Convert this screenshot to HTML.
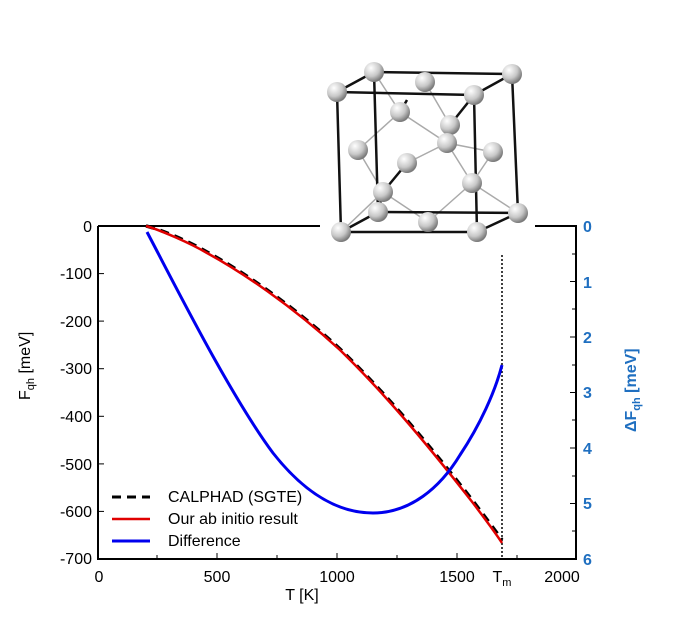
<!DOCTYPE html><html><head><style>body{margin:0;background:#fff}svg{display:block}</style></head><body>
<svg width="674" height="631" viewBox="0 0 674 631" font-family="Liberation Sans, sans-serif">
<defs><radialGradient id="g" cx="0.35" cy="0.3" r="0.7"><stop offset="0" stop-color="#fff"/><stop offset="0.6" stop-color="#c8c8c8"/><stop offset="1" stop-color="#7a7a7a"/></radialGradient></defs>
<g stroke="#000" stroke-width="2" fill="none">
<line x1="98" y1="559" x2="577" y2="559"/><line x1="98" y1="226" x2="98" y2="560"/><line x1="576" y1="226" x2="576" y2="560"/>
<line x1="98" y1="226" x2="320" y2="226"/><line x1="535" y1="226" x2="577" y2="226"/>
</g>
<g stroke="#000" stroke-width="1">
<line x1="217" y1="559" x2="217" y2="553"/><line x1="337" y1="559" x2="337" y2="553"/><line x1="457" y1="559" x2="457" y2="553"/>
<line x1="157" y1="559" x2="157" y2="555"/><line x1="277" y1="559" x2="277" y2="555"/><line x1="397" y1="559" x2="397" y2="555"/><line x1="517" y1="559" x2="517" y2="555"/>
<line x1="98" y1="273.6" x2="104" y2="273.6"/><line x1="98" y1="321.1" x2="104" y2="321.1"/><line x1="98" y1="368.7" x2="104" y2="368.7"/><line x1="98" y1="416.3" x2="104" y2="416.3"/><line x1="98" y1="463.9" x2="104" y2="463.9"/><line x1="98" y1="511.4" x2="104" y2="511.4"/>
<line x1="576" y1="281.5" x2="570" y2="281.5"/><line x1="576" y1="337" x2="570" y2="337"/><line x1="576" y1="392.5" x2="570" y2="392.5"/><line x1="576" y1="448" x2="570" y2="448"/><line x1="576" y1="503.5" x2="570" y2="503.5"/>
<line x1="576" y1="254" x2="572" y2="254"/><line x1="576" y1="309" x2="572" y2="309"/><line x1="576" y1="365" x2="572" y2="365"/><line x1="576" y1="420" x2="572" y2="420"/><line x1="576" y1="476" x2="572" y2="476"/><line x1="576" y1="531" x2="572" y2="531"/>
</g>
<line x1="502" y1="255" x2="502" y2="559" stroke="#000" stroke-width="1.5" stroke-dasharray="2,2"/>
<g font-size="16" fill="#000" text-anchor="end">
<text x="92" y="232">0</text><text x="92" y="279">-100</text><text x="92" y="327">-200</text><text x="92" y="374">-300</text><text x="92" y="422">-400</text><text x="92" y="470">-500</text><text x="92" y="517">-600</text><text x="92" y="564">-700</text>
</g>
<g font-size="16" fill="#000" text-anchor="middle">
<text x="99" y="582">0</text><text x="217" y="582">500</text><text x="337" y="582">1000</text><text x="457" y="582">1500</text><text x="562" y="582">2000</text>
<text x="502" y="582">T<tspan font-size="11" dy="4">m</tspan></text>
<text x="302" y="600">T [K]</text>
</g>
<g font-size="16" fill="#1f6fc0" font-weight="bold">
<text x="583" y="232">0</text><text x="583" y="288">1</text><text x="583" y="343">2</text><text x="583" y="398">3</text><text x="583" y="454">4</text><text x="583" y="509">5</text><text x="583" y="565">6</text>
<text transform="translate(636,432) rotate(-90)" font-weight="bold">ΔF<tspan font-size="11" dy="4">qh</tspan><tspan dy="-4"> [meV]</tspan></text>
</g>
<text transform="translate(30,400) rotate(-90)" font-size="16">F<tspan font-size="11" dy="4">qh</tspan><tspan dy="-4"> [meV]</tspan></text>
<path d="M146,226 C160,229 190,242 207,252 C240,270 290,303 340,349 C380,388 420,433 473,501 C485,517 495,530 502,540" fill="none" stroke="#000" stroke-width="3.5" stroke-dasharray="9,6"/>
<path d="M146,226 C160,230 190,243 207,253 C240,271 290,304 340,350 C380,389 420,435 473,503 C485,519 495,532 502,543" fill="none" stroke="#e00000" stroke-width="2.5"/>
<path d="M147,232 C175,285 230,395 273,453 C310,500 345,513 373,513 C410,513 440,488 460,455 C480,425 495,392 502,365" fill="none" stroke="#0000ee" stroke-width="3"/>
<line x1="112" y1="497" x2="150" y2="497" stroke="#000" stroke-width="3" stroke-dasharray="9,6"/>
<line x1="112" y1="519" x2="150" y2="519" stroke="#e00000" stroke-width="2.5"/>
<line x1="112" y1="541" x2="150" y2="541" stroke="#0000ee" stroke-width="3"/>
<g font-size="16"><text x="168" y="502">CALPHAD (SGTE)</text><text x="168" y="524">Our ab initio result</text><text x="168" y="546">Difference</text></g>
<rect x="322" y="60" width="210" height="185" fill="#fff"/>
<g stroke="#aaa" stroke-width="1.5">
<line x1="400" y1="112" x2="374" y2="72"/><line x1="400" y1="112" x2="358" y2="150"/><line x1="400" y1="112" x2="447" y2="143"/><line x1="450" y1="125" x2="425" y2="82"/><line x1="447" y1="143" x2="493" y2="152"/><line x1="447" y1="143" x2="472" y2="183"/><line x1="358" y1="150" x2="383" y2="192"/><line x1="447" y1="143" x2="407" y2="163"/><line x1="383" y1="192" x2="428" y2="222"/><line x1="472" y1="183" x2="428" y2="222"/><line x1="472" y1="183" x2="518" y2="213"/><line x1="383" y1="192" x2="341" y2="232"/><line x1="472" y1="183" x2="493" y2="152"/>
</g>
<g stroke="#111" stroke-width="2.5" fill="none">
<polygon points="374,72 512,74 518,213 378,212"/>
<polygon points="337,92 474,95 477,232 341,232"/>
<line x1="374" y1="72" x2="337" y2="92"/><line x1="512" y1="74" x2="474" y2="95"/><line x1="518" y1="213" x2="477" y2="232"/><line x1="378" y1="212" x2="341" y2="232"/>
<line x1="450" y1="125" x2="474" y2="95"/><line x1="400" y1="112" x2="407" y2="100"/><line x1="383" y1="192" x2="407" y2="163"/><line x1="383" y1="192" x2="378" y2="212"/>
</g>
<g fill="url(#g)">
<circle cx="374" cy="72" r="10"/><circle cx="512" cy="74" r="10"/><circle cx="425" cy="82" r="10"/><circle cx="337" cy="92" r="10"/><circle cx="474" cy="95" r="10"/><circle cx="400" cy="112" r="10"/><circle cx="450" cy="125" r="10"/><circle cx="447" cy="143" r="10"/><circle cx="358" cy="150" r="10"/><circle cx="407" cy="163" r="10"/><circle cx="493" cy="152" r="10"/><circle cx="472" cy="183" r="10"/><circle cx="383" cy="192" r="10"/><circle cx="378" cy="212" r="10"/><circle cx="518" cy="213" r="10"/><circle cx="428" cy="222" r="10"/><circle cx="341" cy="232" r="10"/><circle cx="477" cy="232" r="10"/>
</g>
</svg>
</body></html>
